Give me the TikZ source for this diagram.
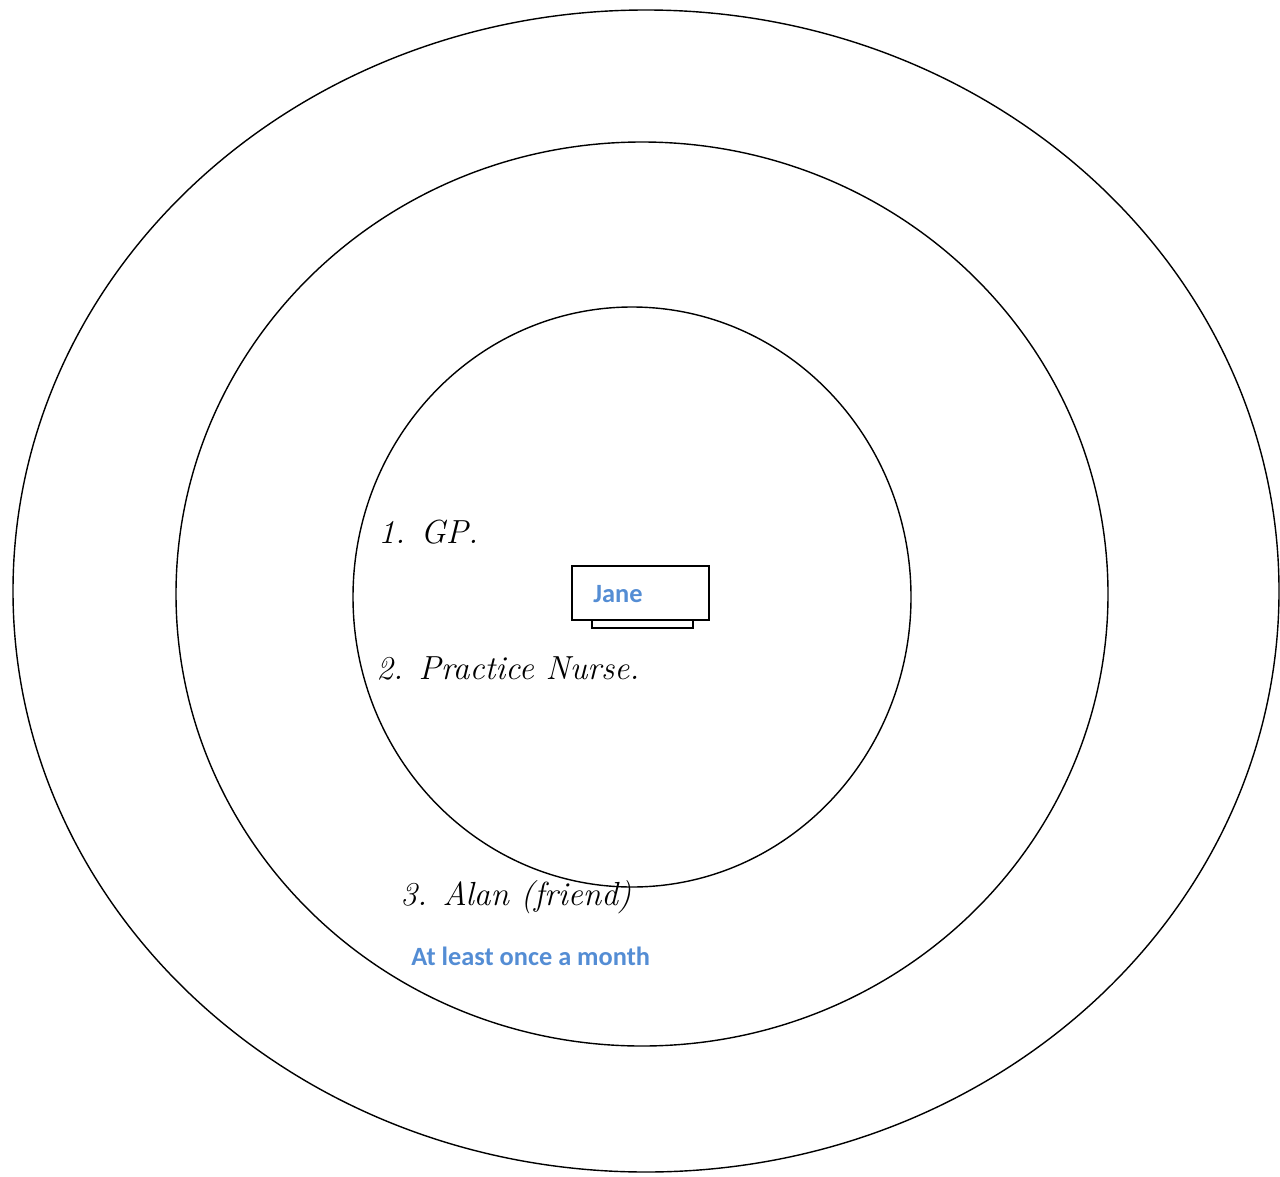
\documentclass[tikz,border=0pt]{standalone}
\usepackage{fontspec}
\usepackage{xcolor}
\usepackage{tikz}
\usetikzlibrary{positioning}
\newfontfamily\labelfont{Carlito}
\definecolor{janeblue}{RGB}{84,141,212}

\begin{document}
\begin{tikzpicture}[x=0.02cm, y=-0.02cm, font=\small]
  \tikzset{ring/.style={draw,line width=0.8pt},
    note/.style={font=\itshape\fontsize{19}{22}\selectfont,anchor=west,inner sep=0pt},
    bluetext/.style={text=janeblue,font=\labelfont\bfseries\fontsize{15}{18}\selectfont,inner sep=0pt}}
  \useasboundingbox (0,0) rectangle (1280,1176);
  \draw[ring] (646,591) ellipse [x radius=633, y radius=581];
  \draw[ring] (642,594) ellipse [x radius=466, y radius=452];
  \draw[ring] (632,597) ellipse [x radius=279, y radius=290];
  \draw[line width=0.8pt] (592,614) rectangle (693,628);
  \node[draw,fill=white,line width=0.8pt,minimum width=2.74cm,minimum height=1.08cm,inner sep=0pt] (jane) at (640.5,593) {};
  \node[bluetext,anchor=west] (janetxt) at (593,594) {Jane};
  \node[note] (gp) at (378,532) {1. GP.};
  \node[note] (nurse) at (376,668) {2. Practice Nurse.};
  \node[note] (alan) at (400,897) {3. Alan (friend)};
  \node[bluetext,anchor=west] (freq) at (411,956) {At least once a month};
\end{tikzpicture}
\end{document}
